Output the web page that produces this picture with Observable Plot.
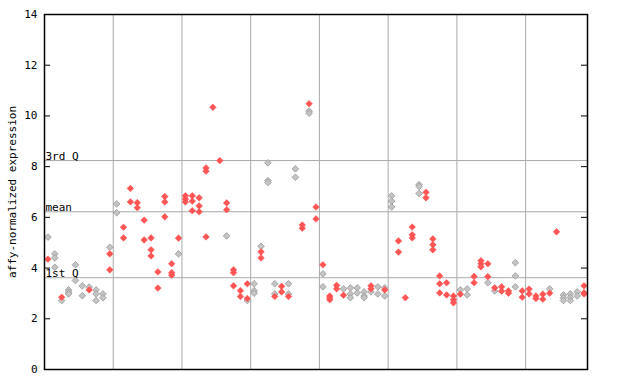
<!DOCTYPE html>
<html>
<head>
<meta charset="utf-8">
<script src="https://cdn.jsdelivr.net/npm/d3@7"></script>
<script src="https://cdn.jsdelivr.net/npm/@observablehq/plot@0.6"></script>
<style>
  html, body { margin: 0; padding: 0; background: #fff; }
</style>
</head>
<body>
<div id="chart"></div>
<script>
// Replicate values per sample (79 samples in 8 groups of 10), two series
const redValues = [
  [4.35], [], [2.85], [], [], [], [3.14], [], [], [4.56, 3.93],
  [], [5.61, 5.19], [7.14, 6.61], [6.58, 6.38], [5.89, 5.11], [5.19, 4.72, 4.48], [3.85, 3.21], [6.82, 6.61, 6.02], [4.17, 3.82, 3.72], [5.18],
  [6.85, 6.72, 6.61], [6.85, 6.64, 6.26], [6.77, 6.45, 6.22], [7.95, 7.82, 5.23], [10.34], [8.24], [6.57, 6.30], [3.93, 3.82, 3.30], [3.11, 2.88], [3.38, 2.80],
  [], [4.64, 4.40], [], [2.88], [3.28, 3.06], [2.88], [], [5.70, 5.57], [10.48], [6.41, 5.94],
  [4.13], [2.90, 2.83, 2.75], [3.32, 3.18], [2.93], [], [], [], [3.30, 3.18], [], [3.14],
  [], [5.07, 4.63], [2.83], [5.62, 5.31, 5.19], [], [6.99, 6.77], [5.15, 4.92, 4.72], [3.69, 3.38, 3.02], [3.42, 2.94], [2.90, 2.75, 2.63],
  [2.97], [], [3.67, 3.42], [4.29, 4.17, 4.05], [4.17, 3.66], [3.22], [3.26, 3.09], [3.10, 3.01], [], [3.10, 2.85],
  [3.17, 2.98], [2.90, 2.80], [2.97, 2.77], [3.01], [5.43], [], [], [], [3.30, 3.02, 2.98]
];
const grayValues = [
  [5.22], [4.56, 4.40, 4.03], [2.72], [3.14, 3.05, 2.98], [4.13, 3.51], [3.30, 2.91], [3.25], [3.14, 2.98, 2.72], [2.98, 2.83], [4.82],
  [6.53, 6.18], [], [], [], [], [], [], [], [], [4.56],
  [], [], [], [], [], [], [5.27], [], [], [2.72],
  [3.38, 3.11, 3.01], [4.86], [8.15, 7.45, 7.37], [3.38, 2.98], [], [3.38, 2.98], [7.91, 7.58], [], [10.19, 10.11], [],
  [3.77, 3.26], [], [], [3.18], [3.22, 2.98, 2.83], [3.22, 3.02], [3.06, 2.90, 2.83], [3.06], [3.26, 2.98], [3.22, 2.90],
  [6.85, 6.64, 6.41], [], [], [], [7.29, 7.22, 6.94], [], [], [], [], [],
  [3.14], [3.18, 2.94], [], [], [3.42], [3.10], [], [], [4.21, 3.69, 3.26], [],
  [], [], [], [3.18], [], [2.94, 2.83, 2.72], [2.98, 2.84, 2.72], [3.06, 2.90], []
];
const groupSize = 10;
const groupCount = 8;
const quartileLabels = ["3rd Q", "mean", "1st Q"];
const quartileValues = [8.24, 6.22, 3.62];
const yTicks = [0, 2, 4, 6, 8, 10, 12, 14];
const yLabel = "affy-normalized expression";

const n = redValues.length;
const points = [];
grayValues.forEach((vals, i) => vals.forEach(v => points.push({i, v, s: "gray"})));
redValues.forEach((vals, i) => vals.forEach(v => points.push({i, v, s: "red"})));
const boundaries = d3.range(1, groupCount).map(k => k * groupSize - 0.5);
const quartiles = quartileLabels.map((label, k) => ({label, value: quartileValues[k]}));

const font = "DejaVu Sans Mono, monospace";
const W = 640, H = 384, mL = 44, mR = 53;
const innerW = W - mL - mR;

const chart = Plot.plot({
  width: W,
  height: H,
  marginLeft: mL,
  marginRight: mR,
  marginTop: 14,
  marginBottom: 15,
  style: {background: "white", fontFamily: font, fontSize: "11px", color: "black"},
  x: {domain: [-0.5, n - 0.5], axis: null},
  y: {domain: [0, 14], axis: null},
  marks: [
    Plot.ruleX(boundaries, {x: d => d, stroke: "#aaaaaa", strokeWidth: 1}),
    Plot.ruleY(quartiles, {y: "value", stroke: "#aaaaaa", strokeWidth: 1}),
    Plot.text(quartiles, {y: "value", text: "label", frameAnchor: "left", textAnchor: "start", lineAnchor: "bottom", dx: 1, dy: -1, fill: "black", fontFamily: font, fontSize: 11}),
    Plot.dot(points.filter(d => d.s === "gray"), {x: "i", y: "v", symbol: "diamond2", r: 3, fill: "#c4c4c4", stroke: "#999999", strokeWidth: 0.8}),
    Plot.dot(points.filter(d => d.s === "red"), {x: "i", y: "v", symbol: "diamond2", r: 3, fill: "#ff5555", stroke: "#ff4d4d", strokeWidth: 0.5}),
    Plot.tickY(yTicks, {y: d => d, stroke: "black", insetRight: innerW - 6}),
    Plot.tickY(yTicks, {y: d => d, stroke: "black", insetLeft: innerW - 6}),
    Plot.axisY(yTicks, {anchor: "left", tickSize: 0, tickPadding: 7, label: null, fontFamily: font, fontSize: 11}),
    Plot.text([yLabel], {text: d => d, frameAnchor: "left", dx: -32, rotate: -90, textAnchor: "middle", fill: "black", fontFamily: font, fontSize: 11}),
    Plot.frame({stroke: "black", strokeWidth: 1.5})
  ]
});
document.getElementById("chart").appendChild(chart);
</script>
</body>
</html>
